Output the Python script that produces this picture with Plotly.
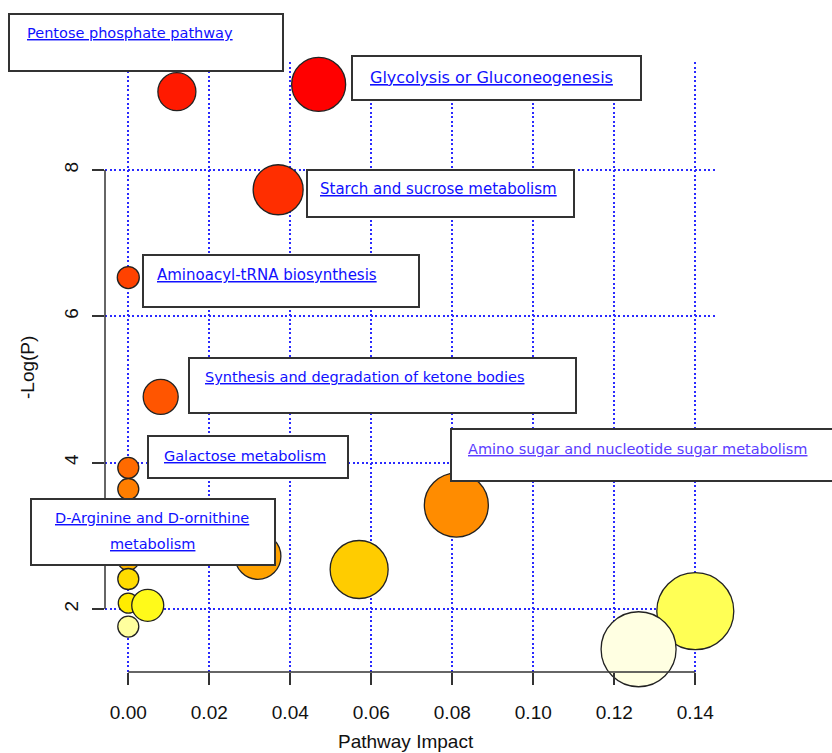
import plotly.graph_objects as go

# ---------------- data ----------------
impact = [0.047, 0.012, 0.037, 0.000, 0.008, 0.000, 0.000, 0.081, 0.032,
          0.000, 0.057, 0.000, 0.000, 0.0048, 0.140, 0.000, 0.126]
neg_log_p = [9.17, 9.07, 7.73, 6.53, 4.90, 3.93, 3.64, 3.42, 2.72,
             2.67, 2.54, 2.41, 2.08, 2.05, 1.97, 1.76, 1.45]
bubble_diam = [54, 38, 50, 22, 35, 21, 21, 64, 46,
               21, 58, 21, 20, 32, 77, 21, 75]
bubble_color = ["#FF0000", "#FF1A00", "#FF2E00", "#FF4200", "#FF5500", "#FF6A00",
                "#FF7E00", "#FF8C00", "#FFA200", "#FFB800", "#FFCC00", "#FFDC00",
                "#FFEC00", "#FFFA1A", "#FFFF55", "#FFFF9E", "#FFFFE2"]

x_ticks = [0.00, 0.02, 0.04, 0.06, 0.08, 0.10, 0.12, 0.14]
x_tick_labels = ["0.00", "0.02", "0.04", "0.06", "0.08", "0.10", "0.12", "0.14"]
y_ticks = [2, 4, 6, 8]
y_tick_labels = ["2", "4", "6", "8"]

label_texts = ["Pentose phosphate pathway", "Glycolysis or Gluconeogenesis",
               "Starch and sucrose metabolism", "Aminoacyl-tRNA biosynthesis",
               "Synthesis and degradation of ketone bodies", "Galactose metabolism",
               "Amino sugar and nucleotide sugar metabolism",
               "D-Arginine and D-ornithine", "metabolism"]

# ---------------- layout (pixels) ----------------
W, H = 832, 753
PL, PR, PT, PB = 105, 717, 62, 672
XR = [-0.00575, 0.14536]
YR = [1.139, 9.476]


def px(xp):
    return (xp - PL) / (PR - PL)


def py(yp):
    return (PB - yp) / (PB - PT)


# label boxes: (left, top, right, bottom)
boxes = [(9, 14, 283, 71), (352, 56, 641, 100), (307, 170, 574, 217),
         (143, 255, 419, 307), (189, 358, 576, 413), (148, 436, 348, 478),
         (451, 429, 836, 481), (31, 499, 275, 565)]
# label text centers (x, y) and colours
text_pos = [(130, 33), (491, 77), (438, 189), (267, 275), (365, 377), (245, 456),
            (638, 449), (152, 518), (152, 544)]
text_col = ["#1010FF"] * 6 + ["#5A3CFF"] + ["#1010FF"] * 2
text_size = [14.5, 16, 15, 15, 14.5, 14.5, 14.5, 14.5, 14.5]

fig = go.Figure()
fig.add_trace(go.Scatter(
    x=impact, y=neg_log_p, mode="markers", cliponaxis=False,
    marker=dict(size=bubble_diam, color=bubble_color, opacity=1,
                line=dict(color="#222222", width=1.3)),
    hoverinfo="skip", showlegend=False))

shapes = []
# R-style axis lines spanning the tick range
shapes.append(dict(type="line", xref="x", yref="paper", x0=x_ticks[0], x1=x_ticks[-1],
                   y0=0, y1=0, line=dict(color="#333333", width=1.5), layer="above"))
shapes.append(dict(type="line", xref="paper", yref="y", x0=0, x1=0,
                   y0=y_ticks[0], y1=y_ticks[-1], line=dict(color="#333333", width=1.5),
                   layer="above"))
for (l, t, r, b) in boxes:
    shapes.append(dict(type="rect", xref="paper", yref="paper",
                       x0=px(l), x1=px(r), y0=py(b), y1=py(t),
                       line=dict(color="#333333", width=2), fillcolor="white",
                       layer="above"))

annotations = []
for txt, (cx, cy), col, sz in zip(label_texts, text_pos, text_col, text_size):
    annotations.append(dict(text=txt, xref="paper", yref="paper", x=px(cx), y=py(cy),
                            xanchor="center", yanchor="middle", showarrow=False,
                            font=dict(family="DejaVu Sans", size=sz, color=col,
                                      lineposition="under")))
annotations.append(dict(text="Pathway Impact", xref="paper", yref="paper",
                        x=px(406), y=py(741), xanchor="center", yanchor="middle",
                        showarrow=False,
                        font=dict(family="Liberation Sans", size=19, color="#111111")))
annotations.append(dict(text="-Log(P)", xref="paper", yref="paper",
                        x=px(27), y=py(368), xanchor="center", yanchor="middle",
                        showarrow=False, textangle=-90,
                        font=dict(family="Liberation Sans", size=19, color="#111111")))

grid = dict(showgrid=True, gridcolor="#2A2AFF", gridwidth=1.6, griddash="2px,2.5px",
            zeroline=False, showline=False, ticks="outside", ticklen=12,
            tickwidth=1.5, tickcolor="#333333",
            tickfont=dict(family="Liberation Sans", size=19, color="#111111"))

fig.update_layout(
    width=W, height=H, margin=dict(l=PL, r=W - PR, t=PT, b=H - PB, autoexpand=False),
    paper_bgcolor="white", plot_bgcolor="white",
    xaxis=dict(range=XR, tickvals=x_ticks, ticktext=x_tick_labels,
               ticklabelstandoff=11, **grid),
    yaxis=dict(range=YR, tickvals=y_ticks, ticktext=y_tick_labels, tickangle=-90,
               ticklabelstandoff=6, **grid),
    shapes=shapes, annotations=annotations,
)

fig.write_html("out.html", config={"displayModeBar": False},
               post_script="document.body.style.margin='0';")
